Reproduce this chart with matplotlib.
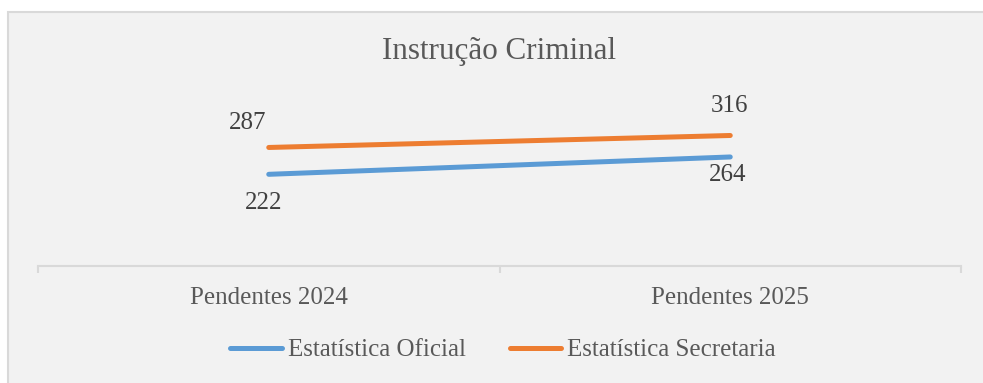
import matplotlib
matplotlib.use("Agg")
import matplotlib.pyplot as plt
from matplotlib.patches import Rectangle
from matplotlib.lines import Line2D

categories = ["Pendentes 2024", "Pendentes 2025"]
oficial = [222, 264]
secretaria = [287, 316]
series_names = ["Estatística Oficial", "Estatística Secretaria"]
title = "Instrução Criminal"

COLOR_OFICIAL = "#5b9bd5"
COLOR_SECRETARIA = "#ed7d31"
BG = "#f2f2f2"
GRID = "#d9d9d9"
TEXT = "#595959"
LABEL = "#404040"

plt.rcParams["font.family"] = ["Liberation Serif", "DejaVu Serif"]

W, H = 983, 383
fig = plt.figure(figsize=(W / 100, H / 100), dpi=100, facecolor="white")

# chart area box
fig.patches.append(Rectangle((8 / W, -0.05), 1.1, (H - 12) / H + 0.05,
                             transform=fig.transFigure, facecolor=BG,
                             edgecolor=GRID, linewidth=1.5, zorder=-10))

ymax = 350
px_per_unit = 0.413
ax = fig.add_axes([38 / W, (H - 266) / H, 923 / W, ymax * px_per_unit / H])
ax.set_facecolor("none")
x = list(range(len(categories)))

ax.plot(x, oficial, color=COLOR_OFICIAL, lw=3.6, solid_capstyle="round")
ax.plot(x, secretaria, color=COLOR_SECRETARIA, lw=3.6, solid_capstyle="round")

ax.set_xlim(-0.5, len(categories) - 0.5)
ax.set_ylim(0, ymax)

for s in ["top", "right", "left"]:
    ax.spines[s].set_visible(False)
ax.spines["bottom"].set_color(GRID)
ax.spines["bottom"].set_linewidth(1.5)
ax.set_yticks([])

ax.set_xticks([i - 0.5 for i in range(len(categories) + 1)])
ax.set_xticklabels([])
ax.tick_params(axis="x", which="major", length=5, width=1.5, color=GRID)
ax.set_xticks(x, minor=True)
ax.set_xticklabels(categories, minor=True)
ax.tick_params(axis="x", which="minor", length=0, pad=15, labelsize=18,
               labelcolor=TEXT)

# data labels (offsets in pixels)
label_offsets_of = [(-5, -29), (-3, -18)]
label_offsets_se = [(-21, 24), (-1, 29)]
for xi, v, off in zip(x, oficial, label_offsets_of):
    ax.annotate(str(v), (xi, v), xytext=off, textcoords="offset pixels",
                ha="center", va="center", fontsize=18, color=LABEL,
                annotation_clip=False)
for xi, v, off in zip(x, secretaria, label_offsets_se):
    ax.annotate(str(v), (xi, v), xytext=off, textcoords="offset pixels",
                ha="center", va="center", fontsize=18, color=LABEL,
                annotation_clip=False)

fig.text(499 / W, 1 - 51 / H, title, ha="center", va="center",
         fontsize=22.4, color=TEXT)

handles = [Line2D([0], [0], color=COLOR_OFICIAL, lw=3.6, solid_capstyle="round"),
           Line2D([0], [0], color=COLOR_SECRETARIA, lw=3.6, solid_capstyle="round")]
fig.legend(handles, series_names, loc="center", bbox_to_anchor=(503 / W, 1 - 350 / H),
           ncol=2, frameon=False, fontsize=18, labelcolor=TEXT,
           handlelength=2.05, handletextpad=0.25, columnspacing=1.75)

fig.savefig("out.png", dpi=100, facecolor="white")
